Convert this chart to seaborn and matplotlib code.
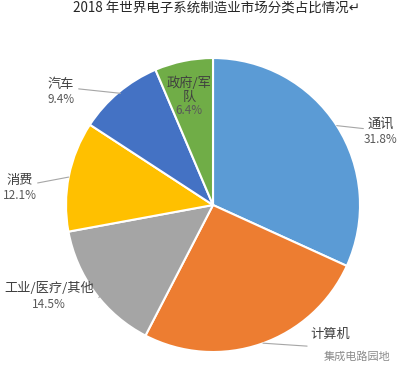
import numpy as np
import matplotlib
matplotlib.use("Agg")
import matplotlib.pyplot as plt
import seaborn as sns

categories = ["通讯", "计算机", "工业/医疗/其他", "消费", "汽车", "政府/军队"]
shares = [31.8, 25.8, 14.5, 12.1, 9.4, 6.4]
colors = ["#5B9BD5", "#ED7D31", "#A5A5A5", "#FFC000", "#4472C4", "#70AD47"]

# where each label block sits (pie radius = 1), and the text shown
label_pos = [(1.143, 0.50), (0.80, -0.93), (-1.116, -0.62), (-1.313, 0.12), (-1.034, 0.77), (-0.163, 0.75)]
label_text = ["通讯", "计算机", "工业/医疗/其他", "消费", "汽车", "政府/军\n队"]

sns.set_theme(style="white")
plt.rcParams['font.family'] = ['Noto Sans CJK SC', 'DejaVu Sans']

fig = plt.figure(figsize=(4.04, 3.76), dpi=100)
ax = fig.add_axes([0.1634, 0.0638, 0.7277, 0.7819])

wedges, _ = ax.pie(shares, colors=colors, startangle=90, counterclock=False,
                   wedgeprops=dict(edgecolor="white", linewidth=1.5))
ax.set_xlim(-1, 1)
ax.set_ylim(-1, 1)
ax.set_aspect("equal")
ax.axis("off")

for i, w in enumerate(wedges):
    lx, ly = label_pos[i]
    name = label_text[i]
    pct = f"{shares[i]:.1f}%"
    if i == 5:
        # inside label
        ax.text(lx, ly + 0.03, name, ha="center", va="center", fontsize=9.5,
                color="#404040", linespacing=1.15)
        ax.text(lx, ly - 0.105, pct, ha="center", va="center", fontsize=8.5, color="#595959")
        continue
    # leader line from the rim to the label
    if i == 0:
        edge_y = 0.54
        edge = (np.sqrt(1 - edge_y ** 2), edge_y)
        end = (lx - 0.12, ly + 0.02)
    elif i == 1:
        edge = (0.34, -0.94)
        end = (lx - 0.16, ly - 0.03)
    elif i == 2:
        edge = (-np.sqrt(1 - 0.63 ** 2), -0.63)
        end = (lx + 0.36, ly + 0.02)
    elif i == 3:
        edge = (-np.sqrt(1 - 0.19 ** 2), 0.19)
        end = (lx + 0.12, ly + 0.03)
    else:
        edge = (-0.63, 0.76)
        end = (lx + 0.12, ly + 0.02)
    ax.plot([edge[0], end[0]], [edge[1], end[1]], color="#A6A6A6", lw=0.8, clip_on=False)
    ax.text(lx, ly + 0.05, name, ha="center", va="center", fontsize=9.5, color="#404040")
    if i == 1:
        ax.text(lx + 0.18, ly - 0.10, "集成电路园地", ha="center", va="center",
                fontsize=8, color="#8C8C8C")
    else:
        ax.text(lx, ly - 0.055, pct, ha="center", va="center", fontsize=8.5, color="#595959")

fig.text(0.537, 0.978, "2018 年世界电子系统制造业市场分类占比情况↵", ha="center", va="center",
         fontsize=9.7, color="#262626")

fig.savefig("out.png", dpi=100, facecolor="white")
